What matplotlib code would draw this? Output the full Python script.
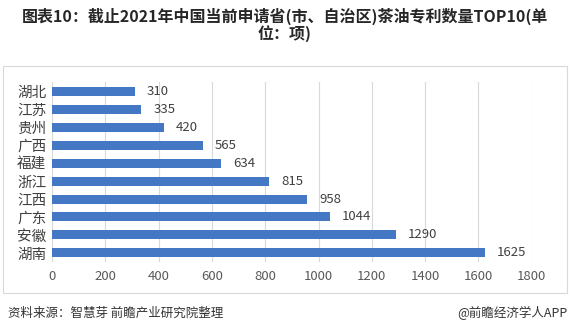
import matplotlib.pyplot as plt
from matplotlib.patches import Rectangle

plt.rcParams['font.family'] = ['Noto Sans CJK SC', 'DejaVu Sans']

provinces = ['湖北', '江苏', '贵州', '广西', '福建', '浙江', '江西', '广东', '安徽', '湖南']
patents = [310, 335, 420, 565, 634, 815, 958, 1044, 1290, 1625]
xticks = [0, 200, 400, 600, 800, 1000, 1200, 1400, 1600, 1800]

title = '图表10：截止2021年中国当前申请省(市、自治区)茶油专利数量TOP10(单\n位：项)'
source = '资料来源：智慧芽 前瞻产业研究院整理'
brand = '@前瞻经济学人APP'

fig = plt.figure(figsize=(5.7, 3.35), dpi=100)
ax = fig.add_axes([0.091, 0.218, 0.842, 0.537])

ypos = list(range(len(provinces)))
ax.barh(ypos, patents, height=0.5, color='#4477c4', zorder=3)
for y, v in zip(ypos, patents):
    ax.text(v + 45, y, str(v), va='center', ha='left', fontsize=9.5, color='#404040')

ax.set_yticks(ypos)
ax.set_yticklabels(provinces, fontsize=10.5, color='#404040')
ax.set_ylim(len(provinces) - 0.5, -0.5)
ax.set_xlim(0, 1800)
ax.set_xticks(xticks)
ax.set_xticklabels([str(t) for t in xticks], fontsize=9.5, color='#595959')
ax.tick_params(length=0, pad=6)
ax.tick_params(axis='y', pad=4)
ax.grid(axis='x', color='#d9d9d9', linewidth=0.8, zorder=0)
for s in ax.spines.values():
    s.set_visible(False)

# border around the chart area
fig.patches.append(Rectangle((3 / 570, 1 - 293 / 335), 564 / 570, 227 / 335,
                             transform=fig.transFigure, fill=False,
                             edgecolor='#d9d9d9', linewidth=0.8))

fig.text(0.5, 1 - 25 / 335, title, ha='center', va='center', fontsize=11.5,
         fontweight='bold', color='#262626', linespacing=1.0)
fig.text(8 / 570, 1 - 313 / 335, source, ha='left', va='center', fontsize=9, color='#333333')
fig.text(567 / 570, 1 - 313 / 335, brand, ha='right', va='center', fontsize=9, color='#333333')

fig.savefig('out.png', dpi=100)
